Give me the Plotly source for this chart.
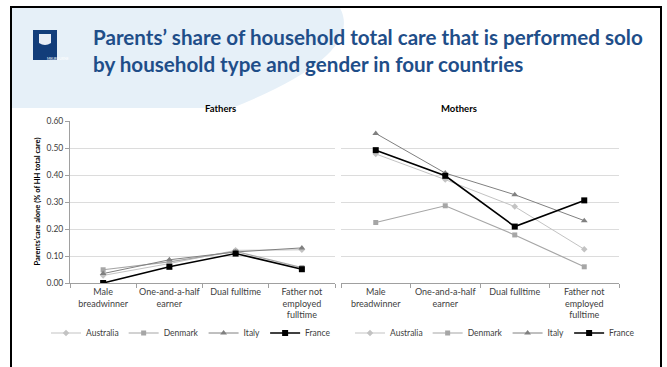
import plotly.graph_objects as go

W, H = 667, 367

categories = ["Male<br>breadwinner", "One-and-a-half<br>earner", "Dual fulltime",
              "Father not<br>employed<br>fulltime"]
countries = ["Australia", "Denmark", "Italy", "France"]

# Share of household total care performed solo
fathers = {
    "Australia": [0.028, 0.072, 0.121, 0.123],
    "Denmark":   [0.049, 0.078, 0.117, 0.057],
    "Italy":     [0.035, 0.086, 0.115, 0.130],
    "France":    [0.000, 0.060, 0.109, 0.051],
}
mothers = {
    "Australia": [0.478, 0.383, 0.283, 0.125],
    "Denmark":   [0.224, 0.286, 0.178, 0.060],
    "Italy":     [0.554, 0.407, 0.327, 0.231],
    "France":    [0.492, 0.397, 0.209, 0.306],
}
y_ticks = [0.0, 0.1, 0.2, 0.3, 0.4, 0.5, 0.6]

styles = {
    "Australia": dict(color="#c3c3c3", symbol="diamond", size=5, width=1.0),
    "Denmark":   dict(color="#a6a6a6", symbol="square", size=5, width=1.2),
    "Italy":     dict(color="#808080", symbol="triangle-up", size=6, width=1.0),
    "France":    dict(color="#000000", symbol="square", size=6, width=1.6),
}

FONT = "Lato"
TICK_COL = "#404040"


def px(x, y):
    return x / W, 1 - y / H


fig = go.Figure()

for c in countries:
    s = styles[c]
    for data, xa, ya, lg in ((fathers, "x", "y", "legend"), (mothers, "x2", "y2", "legend2")):
        fig.add_trace(go.Scatter(
            x=categories, y=data[c], name=c, mode="lines+markers",
            xaxis=xa, yaxis=ya, legend=lg,
            line=dict(color=s["color"], width=s["width"]),
            marker=dict(symbol=s["symbol"], size=s["size"], color=s["color"]),
        ))

x0l, x1l = 70, 335
x0r, x1r = 341, 619
ytop, ybot = 121, 283

xcommon = dict(
    type="category", range=[-0.5, 3.5], showline=True, linecolor="#a0a0a0",
    linewidth=1, ticks="outside", ticklen=4, tickcolor="#a0a0a0",
    tickson="boundaries", showgrid=False, zeroline=False, tickangle=0,
    automargin=False,
    tickfont=dict(family=FONT, size=9, color=TICK_COL),
)
ycommon = dict(
    range=[0, 0.6], tickvals=y_ticks, showgrid=True, gridcolor="#dcdcdc",
    gridwidth=1, zeroline=False, automargin=False,
)
legend_common = dict(
    orientation="h", xanchor="left", yanchor="middle", itemwidth=30,
    font=dict(family=FONT, size=8.5, color=TICK_COL),
    bgcolor="rgba(0,0,0,0)", tracegroupgap=0,
)

fig.update_layout(
    width=W, height=H, margin=dict(l=0, r=0, t=0, b=0, autoexpand=False),
    paper_bgcolor="white", plot_bgcolor="rgba(0,0,0,0)",
    font=dict(family=FONT, color=TICK_COL),
    xaxis=dict(domain=[x0l / W, x1l / W], anchor="y", **xcommon),
    xaxis2=dict(domain=[x0r / W, x1r / W], anchor="y2", **xcommon),
    yaxis=dict(domain=[1 - ybot / H, 1 - ytop / H], anchor="x",
               showline=True, linecolor="#a0a0a0", ticks="outside", ticklen=4,
               tickcolor="#a0a0a0", tickformat=".2f",
               tickfont=dict(family=FONT, size=8.5, color=TICK_COL), **ycommon),
    yaxis2=dict(domain=[1 - ybot / H, 1 - ytop / H], anchor="x2",
                showline=False, showticklabels=False, **ycommon),
    legend=dict(x=px(46, 0)[0], y=px(0, 333)[1], **legend_common),
    legend2=dict(x=px(350, 0)[0], y=px(0, 333)[1], **legend_common),
)

shapes = []
# light blue header wedge
a = px(12, 8); b = px(340, 8); c1 = px(365, 55); d = px(232, 108); e = px(12, 108)
shapes.append(dict(
    type="path", xref="paper", yref="paper", layer="below",
    path=f"M {a[0]},{a[1]} L {b[0]},{b[1]} Q {c1[0]},{c1[1]} {d[0]},{d[1]} L {e[0]},{e[1]} Z",
    fillcolor="#e6f0f8", line=dict(width=0),
))
# logo block
l0 = px(33, 30); l1 = px(57, 60)
shapes.append(dict(type="rect", xref="paper", yref="paper", x0=l0[0], y0=l1[1],
                   x1=l1[0], y1=l0[1], fillcolor="#123d7a", line=dict(width=0)))
s0 = px(39, 34); s1 = px(51, 47)
shapes.append(dict(type="path", xref="paper", yref="paper",
                   path=(f"M {s0[0]},{s0[1]} L {s1[0]},{s0[1]} L {s1[0]},{px(0,43)[1]} "
                         f"Q {px(45,0)[0]},{s1[1]} {s0[0]},{px(0,43)[1]} Z"),
                   fillcolor="#e8eef7", line=dict(width=0)))
# slide frame
f0 = px(11, 7); f1 = px(661, 380)
shapes.append(dict(type="rect", xref="paper", yref="paper", x0=f0[0], y0=f1[1],
                   x1=f1[0], y1=f0[1], line=dict(color="black", width=2),
                   fillcolor="rgba(0,0,0,0)"))
fig.update_layout(shapes=shapes)

ann = []
ann.append(dict(text="Parents’ share of household total care that is performed solo<br>"
                     "by household type and gender in four countries",
                x=px(91, 0)[0], y=px(0, 50)[1], xref="paper", yref="paper",
                xanchor="left", yanchor="middle", align="left", showarrow=False,
                font=dict(family=FONT, size=20.6, color="#1f4e89", weight="bold")))
ann.append(dict(text="MELBOURNE", x=px(45, 0)[0], y=px(0, 55)[1], xref="paper", yref="paper",
                showarrow=False, font=dict(family=FONT, size=3.5, color="white")))
ann.append(dict(text="<b>Fathers</b>", x=px(203, 0)[0], y=px(0, 101)[1], xref="paper",
                yref="paper", showarrow=False,
                font=dict(family=FONT, size=9.5, color="#000000")))
ann.append(dict(text="<b>Mothers</b>", x=px(479, 0)[0], y=px(0, 101)[1], xref="paper",
                yref="paper", showarrow=False,
                font=dict(family=FONT, size=9.5, color="#000000")))
ann.append(dict(text="<b>Parents'care alone (% of HH total care)</b>", x=px(30, 0)[0],
                y=px(0, 202)[1], xref="paper", yref="paper", textangle=-90,
                showarrow=False, font=dict(family=FONT, size=7.5, color="#000000")))
fig.update_layout(annotations=ann)

fig.write_html("out.html")
